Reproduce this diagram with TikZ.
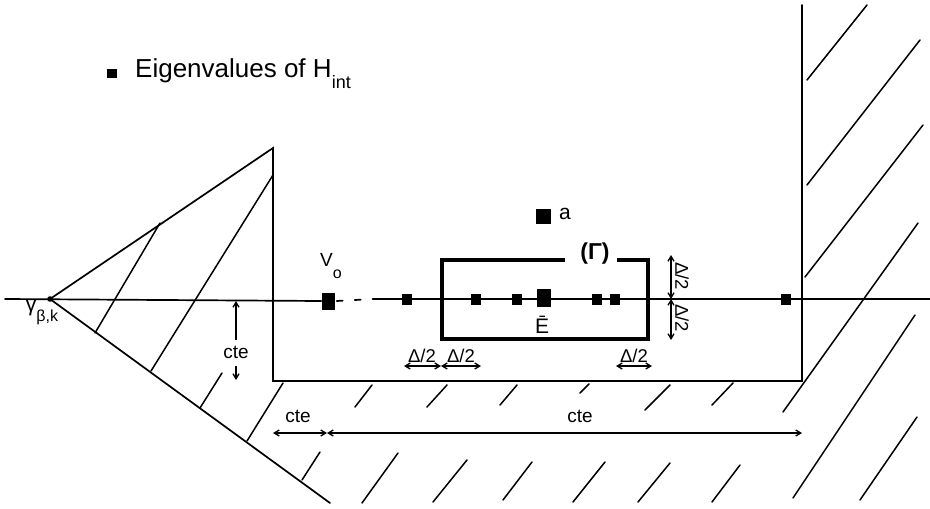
\documentclass[tikz,border=0pt]{standalone}
\usepackage{fontspec}
\setmainfont{Liberation Sans}
\usetikzlibrary{arrows.meta}
\begin{document}
\begin{tikzpicture}[x=1pt,y=-1pt,
  ln/.style={line width=1.7pt, line cap=round},
  hatch/.style={line width=1.5pt, line cap=round},
  gbox/.style={line width=4.5pt},
  dim/.style={line width=1.3pt, {Straight Barb[length=5pt,width=6pt]}-{Straight Barb[length=5pt,width=6pt]}},
  dimone/.style={line width=1.3pt, -{Straight Barb[length=5pt,width=6pt]}},
  ev/.style={fill=black, draw=none, inner sep=0pt, minimum width=10pt, minimum height=11pt},
  lbl/.style={inner sep=0pt, font=\fontsize{19}{19}\selectfont},
  dl/.style={inner sep=0pt, font=\fontsize{18.5}{18.5}\selectfont}
]
\useasboundingbox (0,0) rectangle (930,509);
% legend
\node[ev, minimum width=10pt, minimum height=9pt] (leg) at (112,73) {};
\node[inner sep=0pt, anchor=base west, font=\fontsize{26}{26}\selectfont] (legt) at (135,77)
  {Eigenvalues of H\raisebox{-11pt}{\fontsize{18}{18}\selectfont int}};
% main frame
\coordinate (apex) at (50,299);
\coordinate (ttop) at (273,148);
\coordinate (bl) at (273,381);
\coordinate (br) at (802,381);
\coordinate (rtop) at (802,5);
\coordinate (tbot) at (330,503);
\draw[ln] (apex) -- (ttop) -- (bl) -- (br) -- (rtop);
\draw[ln] (apex) -- (tbot);
\fill (apex) circle (2.8pt);
% axis
\node[ev, minimum width=13pt, minimum height=17pt] (vo) at (328,301) {};
\draw[ln] (5,299) -- (vo.west);
\draw[ln, dash pattern=on 6pt off 12pt] (vo.east) ++(2,0) -- (373,299);
\draw[ln] (373,299) -- (930,299);
\node[ev] (e1) at (407,299) {};
\node[ev] (e2) at (476,299) {};
\node[ev] (e3) at (517,299) {};
\node[ev, minimum width=14pt, minimum height=18pt] (ebar) at (544,298) {};
\node[ev] (e4) at (597,299) {};
\node[ev] (e5) at (615,299) {};
\node[ev] (e6) at (786,299) {};
\node[ev, minimum width=15pt, minimum height=15pt] (asq) at (543,216) {};
\node[inner sep=0pt, font=\fontsize{21}{21}\selectfont] (alab) at (565,214) {a};
\node[lbl] (volab) at (331,266) {V\raisebox{-12pt}{\fontsize{16}{16}\selectfont o}};
\node[inner sep=0pt, font=\fontsize{21}{21}\selectfont] (ebarlab) at (542,325) {Ē};
\node[inner sep=0pt, font=\fontsize{21}{21}\selectfont] (gam) at (42,313)
  {γ\raisebox{-10pt}{\fontsize{16}{16}\selectfont β,k}};
% Gamma contour
\draw[gbox] (565,260) -- (442,260) -- (442,339) -- (648,339) -- (648,260) -- (617,260);
\node[inner sep=0pt, font=\fontsize{23}{23}\selectfont\bfseries] (glab) at (595,254) {(Γ)};
% Delta/2 dimensions
\coordinate (v1) at (671,255);
\coordinate (v2) at (671,299);
\coordinate (v3) at (671,340);
\draw[dim] (v1) -- (v2);
\draw[dim] (v2) -- (v3);
\node[dl, rotate=-90] (dv1) at (682,276) {Δ/2};
\node[dl, rotate=-90] (dv2) at (682,318) {Δ/2};
\coordinate (h1) at (404,366);
\coordinate (h2) at (441,366);
\coordinate (h3) at (481,366);
\coordinate (h4) at (616,366);
\coordinate (h5) at (652,366);
\draw[dim] (h1) -- (h2);
\draw[dim] (h2) -- (h3);
\draw[dim] (h4) -- (h5);
\node[dl] (dh1) at (422,356) {Δ/2};
\node[dl] (dh2) at (461,356) {Δ/2};
\node[dl] (dh3) at (634,356) {Δ/2};
% cte dimensions
\coordinate (c1) at (236,340);
\coordinate (c2) at (236,301);
\coordinate (c3) at (236,366);
\coordinate (c4) at (236,380);
\draw[dimone] (c1) -- (c2);
\draw[dimone] (c3) -- (c4);
\node[lbl] (cte1) at (236,352) {cte};
\coordinate (b1) at (273,433);
\coordinate (b2) at (327,433);
\coordinate (b3) at (802,433);
\draw[dim] (b1) -- (b2);
\draw[dim] (b2) -- (b3);
\node[lbl] (cte2) at (298,416) {cte};
\node[lbl] (cte3) at (580,416) {cte};
% hatching
\draw[hatch] (160,223)--(95,333) (273,175)--(151,371) (222,373)--(200,408)
  (283,383)--(247,441) (320,452)--(302,480);
\draw[hatch] (372,385)--(355,407) (447,385)--(427,407) (517,385)--(500,405)
  (589,384)--(580,393) (670,385)--(645,410) (733,383)--(712,405);
\draw[hatch] (918,223)--(783,412);
\draw[hatch] (398,453)--(362,503) (467,460)--(433,502) (532,462)--(503,500)
  (605,462)--(573,502) (670,463)--(638,502) (740,465)--(712,502);
\draw[hatch] (867,5)--(807,80) (920,40)--(807,185) (923,125)--(805,277)
  (915,315)--(793,498) (917,417)--(860,500);
\end{tikzpicture}
\end{document}
